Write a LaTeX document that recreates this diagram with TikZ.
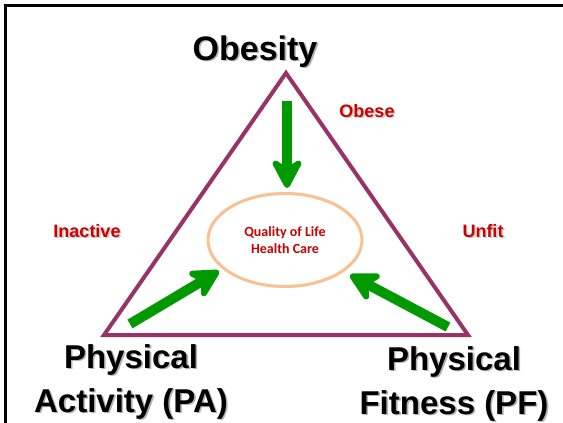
\documentclass[tikz,border=0pt]{standalone}
\usepackage{fontspec}
\setmainfont{Liberation Sans}
\newfontfamily\calibrifont{Carlito}
\usetikzlibrary{arrows.meta, positioning, shapes.geometric}
\definecolor{trianglecolor}{RGB}{153,51,102}
\definecolor{arrowgreen}{RGB}{0,153,0}
\definecolor{labelred}{RGB}{204,0,0}
\definecolor{ringcolor}{RGB}{250,192,143}

% text with a soft drop shadow behind it
\newcommand{\shadowed}[2][black!30]{\makebox[0pt][l]{\hspace{1.6pt}\raisebox{-1.6pt}{\textcolor{#1}{#2}}}#2}

\begin{document}
\begin{tikzpicture}[
    x=1pt, y=-1pt,
    corner/.style={font=\bfseries\fontsize{33}{44}\selectfont, align=center, inner sep=0pt, anchor=base},
    side/.style={font=\bfseries\fontsize{18}{20}\selectfont, text=labelred, inner sep=0pt, anchor=base},
    push/.style={line width=10pt, arrowgreen, -{Stealth[length=36pt, width=38pt, inset=12pt, round]}}
]
    \useasboundingbox (0,0) rectangle (563,423);
    \clip (0,0) rectangle (563,423);

    % Frame
    \draw[line width=3pt] (5.5,5.5) rectangle (620,480);

    % Triangle
    \coordinate (apex) at (286,73);
    \coordinate (left) at (104,335);
    \coordinate (right) at (468,335);
    \draw[trianglecolor, line width=4pt, line join=miter] (apex) -- (left) -- (right) -- cycle;

    % Corner labels (base = last line)
    \node[corner, font=\bfseries\fontsize{34}{40}\selectfont] (obesity) at (255,60) {\shadowed{Obesity}};
    \node[corner] (activity) at (131,412) {\shadowed{Physical}\\\shadowed{Activity (PA)}};
    \node[corner] (fitness) at (454,414) {\shadowed{Physical}\\\shadowed{Fitness (PF)}};

    % Side labels
    \node[side] (obese) at (367,117) {\shadowed[black!20]{Obese}};
    \node[side] (inactive) at (87,237) {\shadowed[black!20]{Inactive}};
    \node[side] (unfit) at (483,237) {\shadowed[black!20]{Unfit}};

    % Centre
    \node[ellipse, draw=ringcolor, line width=3pt, minimum width=154pt, minimum height=93pt,
          text=labelred, font=\calibrifont\bfseries\fontsize{14}{17}\selectfont, align=center] (quality) at (285,240)
          {Quality of Life\\Health Care};

    % Arrows into the centre
    \coordinate (obesitytail) at (287,101);
    \coordinate (obesitytip) at (287,188);
    \coordinate (activitytail) at (130,324);
    \coordinate (activitytip) at (219,271);
    \coordinate (fitnesstail) at (448,327);
    \coordinate (fitnesstip) at (350,275);
    \draw[push] (obesitytail) -- (obesitytip);
    \draw[push] (activitytail) -- (activitytip);
    \draw[push] (fitnesstail) -- (fitnesstip);
\end{tikzpicture}
\end{document}
